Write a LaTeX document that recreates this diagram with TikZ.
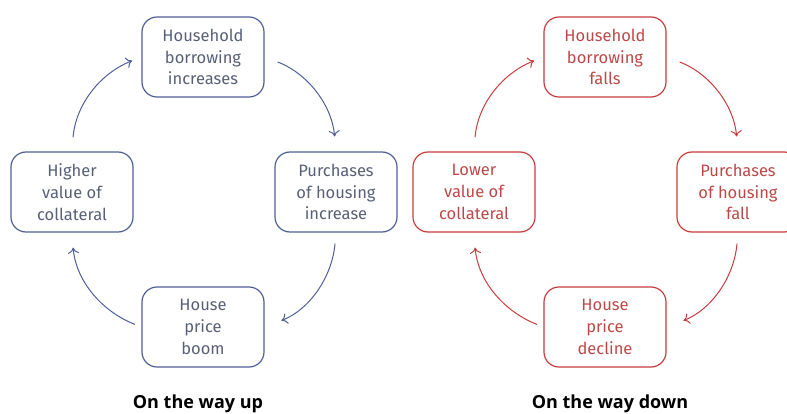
\documentclass[tikz,border=0pt]{standalone}
\usepackage{fontspec}
\setmainfont{Fira Sans}
\newfontfamily\capfont{Open Sans}
\usetikzlibrary{arrows.meta}

\definecolor{upline}{RGB}{78,96,150}
\definecolor{uptext}{RGB}{88,96,120}
\definecolor{downline}{RGB}{200,60,62}
\definecolor{downtext}{RGB}{188,72,72}

\tikzset{
  stage/.style={draw, rounded corners=15pt, line width=1.2pt,
    minimum width=122pt, minimum height=80pt, inner sep=0pt,
    align=center, font=\fontsize{16.5}{21.7}\selectfont},
  flow/.style={-{To[length=6pt,width=11pt]}, line width=1pt, bend left=32},
  caption/.style={font=\capfont\bfseries\fontsize{18}{21}\selectfont},
}

\begin{document}
\begin{tikzpicture}[x=1pt, y=-1pt]
\useasboundingbox (0,0) rectangle (787,414);

% On the way up
\begin{scope}[upline]
\node[stage, text=uptext] (upborrow) at (203,57) {Household\\borrowing\\increases};
\node[stage, text=uptext] (upbuy) at (336,192) {Purchases\\of housing\\increase};
\node[stage, text=uptext] (upprice) at (203,327) {House\\price\\boom};
\node[stage, text=uptext] (upvalue) at (72,192) {Higher\\value of\\collateral};

\draw[flow, shorten <=14pt, shorten >=15pt] (upborrow.east) to (upbuy.north);
\draw[flow, shorten <=11pt, shorten >=18pt] (upbuy.south) to (upprice.east);
\draw[flow, shorten <=7pt, shorten >=15pt] (upprice.west) to (upvalue.south);
\draw[flow, shorten <=14pt, shorten >=10pt] (upvalue.north) to (upborrow.west);

\node[caption, text=black] (uptitle) at (198,404) {On the way up};
\end{scope}

% On the way down
\begin{scope}[downline]
\node[stage, text=downtext] (downborrow) at (605,57) {Household\\borrowing\\falls};
\node[stage, text=downtext] (downbuy) at (738,192) {Purchases\\of housing\\fall};
\node[stage, text=downtext] (downprice) at (605,327) {House\\price\\decline};
\node[stage, text=downtext] (downvalue) at (474,192) {Lower\\value of\\collateral};

\draw[flow, shorten <=14pt, shorten >=15pt] (downborrow.east) to (downbuy.north);
\draw[flow, shorten <=11pt, shorten >=18pt] (downbuy.south) to (downprice.east);
\draw[flow, shorten <=7pt, shorten >=15pt] (downprice.west) to (downvalue.south);
\draw[flow, shorten <=14pt, shorten >=10pt] (downvalue.north) to (downborrow.west);

\node[caption, text=black] (downtitle) at (610,404) {On the way down};
\end{scope}
\end{tikzpicture}
\end{document}
